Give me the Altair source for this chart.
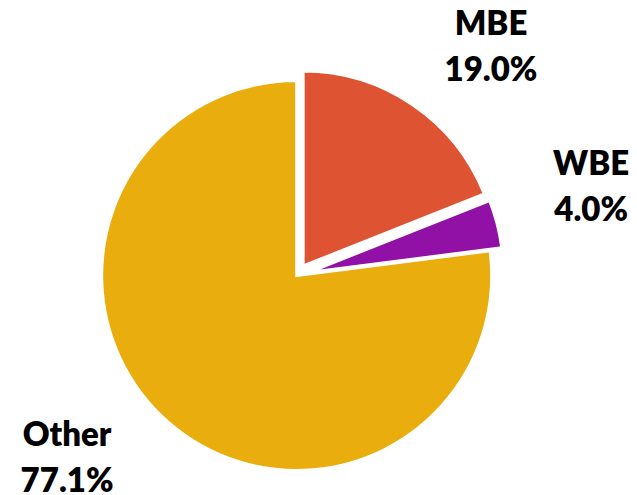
import math
import altair as alt
import pandas as pd

categories = ["MBE", "WBE", "Other"]
shares = [19.0, 4.0, 77.1]
pct_labels = ["19.0%", "4.0%", "77.1%"]
order = [0, 1, 2]
colors = ["#DE5433", "#9110A5", "#E9AD0E"]

df = pd.DataFrame({"cat": categories, "share": shares, "pct": pct_labels, "order": order})
total = sum(shares)

# layout (chart coordinates)
CX, CY = 288.7, 267.5
R = 195
explode = {"MBE": 11.5, "WBE": 12.0, "Other": 0.0}
label_r = 290
label_adj = {"MBE": (25, -1), "WBE": (2, -35), "Other": (-38, -57)}

theta_scale = alt.Scale(domain=[0, total], range=[0, 2 * math.pi], nice=False, zero=True)
color_scale = alt.Scale(domain=categories, range=colors)

base = (
    alt.Chart(df)
    .transform_window(cum="sum(share)", sort=[alt.SortField("order")], frame=[None, 0])
    .transform_calculate(start="datum.cum - datum.share", mid="datum.cum - datum.share / 2",
                         txt="datum.cat + '\\n' + datum.pct")
)

layers = []
cum = 0.0
for cat, share in zip(categories, shares):
    mid_angle = (cum + share / 2) / total * 2 * math.pi
    cum += share
    d = explode[cat]
    ox = CX + d * math.sin(mid_angle)
    oy = CY - d * math.cos(mid_angle)
    arc = (
        base.transform_filter(alt.datum.cat == cat)
        .mark_arc(outerRadius=R, stroke="white", strokeWidth=3, strokeJoin="miter")
        .encode(
            theta=alt.Theta("start:Q", scale=theta_scale),
            theta2="cum:Q",
            color=alt.Color("cat:N", scale=color_scale, legend=None),
            x=alt.value(ox),
            y=alt.value(oy),
        )
    )
    dx, dy = label_adj[cat]
    txt = (
        base.transform_filter(alt.datum.cat == cat)
        .mark_text(font="Lato", fontWeight=800, fontSize=33, lineHeight=46,
                   align="center", baseline="middle", radius=label_r, dx=dx, dy=dy,
                   lineBreak="\n", color="black")
        .encode(
            theta=alt.Theta("mid:Q", scale=theta_scale),
            text="txt:N",
            x=alt.value(ox),
            y=alt.value(oy),
        )
    )
    layers += [arc, txt]

chart = (
    alt.layer(*layers)
    .properties(width=621, height=487, padding=0, autosize=alt.AutoSizeParams(type="none"))
    .configure_view(stroke=None)
)

chart.save("out.html", embed_options={"renderer": "svg", "actions": False})
